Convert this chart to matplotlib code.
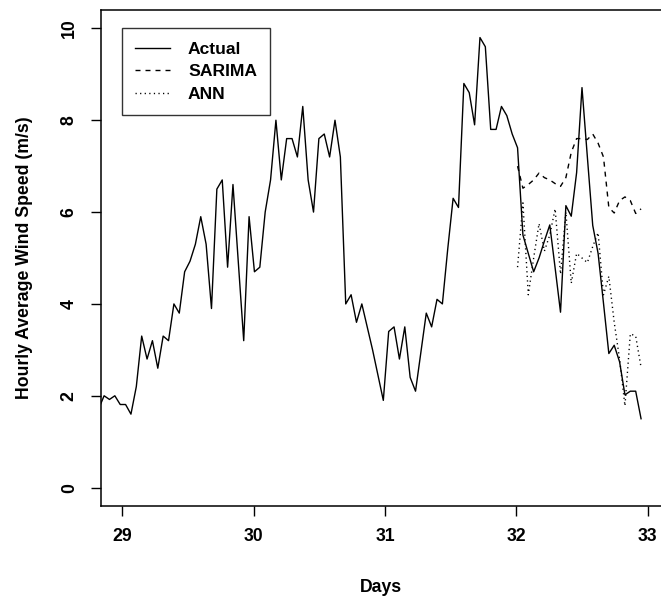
import matplotlib
matplotlib.use('Agg')
import matplotlib.pyplot as plt
import numpy as np

# Hourly observations (m/s)
actual = [1.72, 2.0, 1.92, 2.0, 1.81, 1.81, 1.6, 2.2, 3.3, 2.8,
          3.2, 2.6, 3.3, 3.2, 4.0, 3.8, 4.7, 4.93, 5.3, 5.9,
          5.3, 3.9, 6.5, 6.7, 4.8, 6.6, 4.9, 3.2, 5.9, 4.7,
          4.8, 6.0, 6.7, 8.0, 6.7, 7.6, 7.6, 7.2, 8.3, 6.7,
          6.0, 7.6, 7.7, 7.2, 8.0, 7.2, 4.0, 4.2, 3.6, 4.0,
          3.5, 3.0, 2.45, 1.9, 3.4, 3.5, 2.8, 3.5, 2.4, 2.1,
          2.95, 3.8, 3.5, 4.1, 4.0, 5.2, 6.3, 6.1, 8.8, 8.6,
          7.9, 9.8, 9.6, 7.8, 7.8, 8.3, 8.1, 7.7, 7.4, 5.5,
          5.1, 4.7, 5.0, 5.37, 5.72, 4.78, 3.82, 6.14, 5.91, 6.86,
          8.71, 7.2, 5.71, 5.1, 4.02, 2.92, 3.1, 2.74, 2.02, 2.1,
          2.1, 1.5]
sarima = [7.0, 6.52, 6.6, 6.7, 6.85, 6.75, 6.7, 6.62, 6.56, 6.75,
          7.3, 7.6, 7.6, 7.58, 7.7, 7.5, 7.2, 6.1, 5.98, 6.25,
          6.33, 6.25, 5.97, 6.07]
ann = [4.8, 6.2, 4.2, 5.0, 5.75, 5.15, 5.5, 6.07, 4.65, 6.0,
       4.45, 5.1, 5.0, 4.9, 5.25, 5.55, 4.2, 4.6, 3.6, 2.8,
       1.78, 3.35, 3.3, 2.62]

start_day = 28.82
step_day = 0.0409
t_actual = start_day + step_day * np.arange(len(actual))
t_fc = t_actual[-len(sarima):]

xticks = [29, 30, 31, 32, 33]
yticks = [0, 2, 4, 6, 8, 10]

W, H = 661, 601
fig = plt.figure(figsize=(W / 100, H / 100), dpi=100)
left, right, top, bottom = 100.7, 661.5, 10.0, 506.0
ax = fig.add_axes([left / W, (H - bottom) / H, (right - left) / W, (bottom - top) / H])

font = {'family': 'Liberation Sans', 'weight': 'bold', 'size': 12.7}
lw = 1.0
ax.plot(t_actual, actual, color='black', lw=lw, ls='-', label='Actual')
ax.plot(t_fc, sarima, color='black', lw=lw, ls=(0, (3.6, 3.6)), label='SARIMA')
ax.plot(t_fc, ann, color='black', lw=lw, ls=(0, (0.9, 2.4)), label='ANN')

ax.set_xlim(28.835, 29 + (right - 122.3) / 131.3)
ax.set_ylim(-0.4, 10.4)
ax.set_xticks(xticks)
ax.set_yticks(yticks)
ax.set_xticklabels([str(v) for v in xticks], fontdict=font)
ax.set_yticklabels([str(v) for v in yticks], fontdict=font, rotation=90, va='center')
ax.tick_params(axis='both', direction='out', length=7.5, width=1.0, color='black')
ax.tick_params(axis='x', pad=8)
ax.tick_params(axis='y', pad=9)
for s in ['left', 'top', 'bottom']:
    ax.spines[s].set_linewidth(1.1)
ax.spines['right'].set_visible(False)

ax.set_xlabel('Days', fontdict=font, labelpad=25)
ax.set_ylabel('Hourly Average Wind Speed (m/s)', fontdict=font, labelpad=20)

leg = ax.legend(loc='upper left', bbox_to_anchor=(29, 10), bbox_transform=ax.transData,
                prop={'family': 'Liberation Sans', 'weight': 'bold', 'size': 12.6},
                frameon=True, fancybox=False, borderaxespad=0, borderpad=0.75,
                labelspacing=0.42, handlelength=2.0, handletextpad=1.0)
leg.get_frame().set_edgecolor('black')
leg.get_frame().set_linewidth(1.0)

fig.savefig('out.png', dpi=100)
